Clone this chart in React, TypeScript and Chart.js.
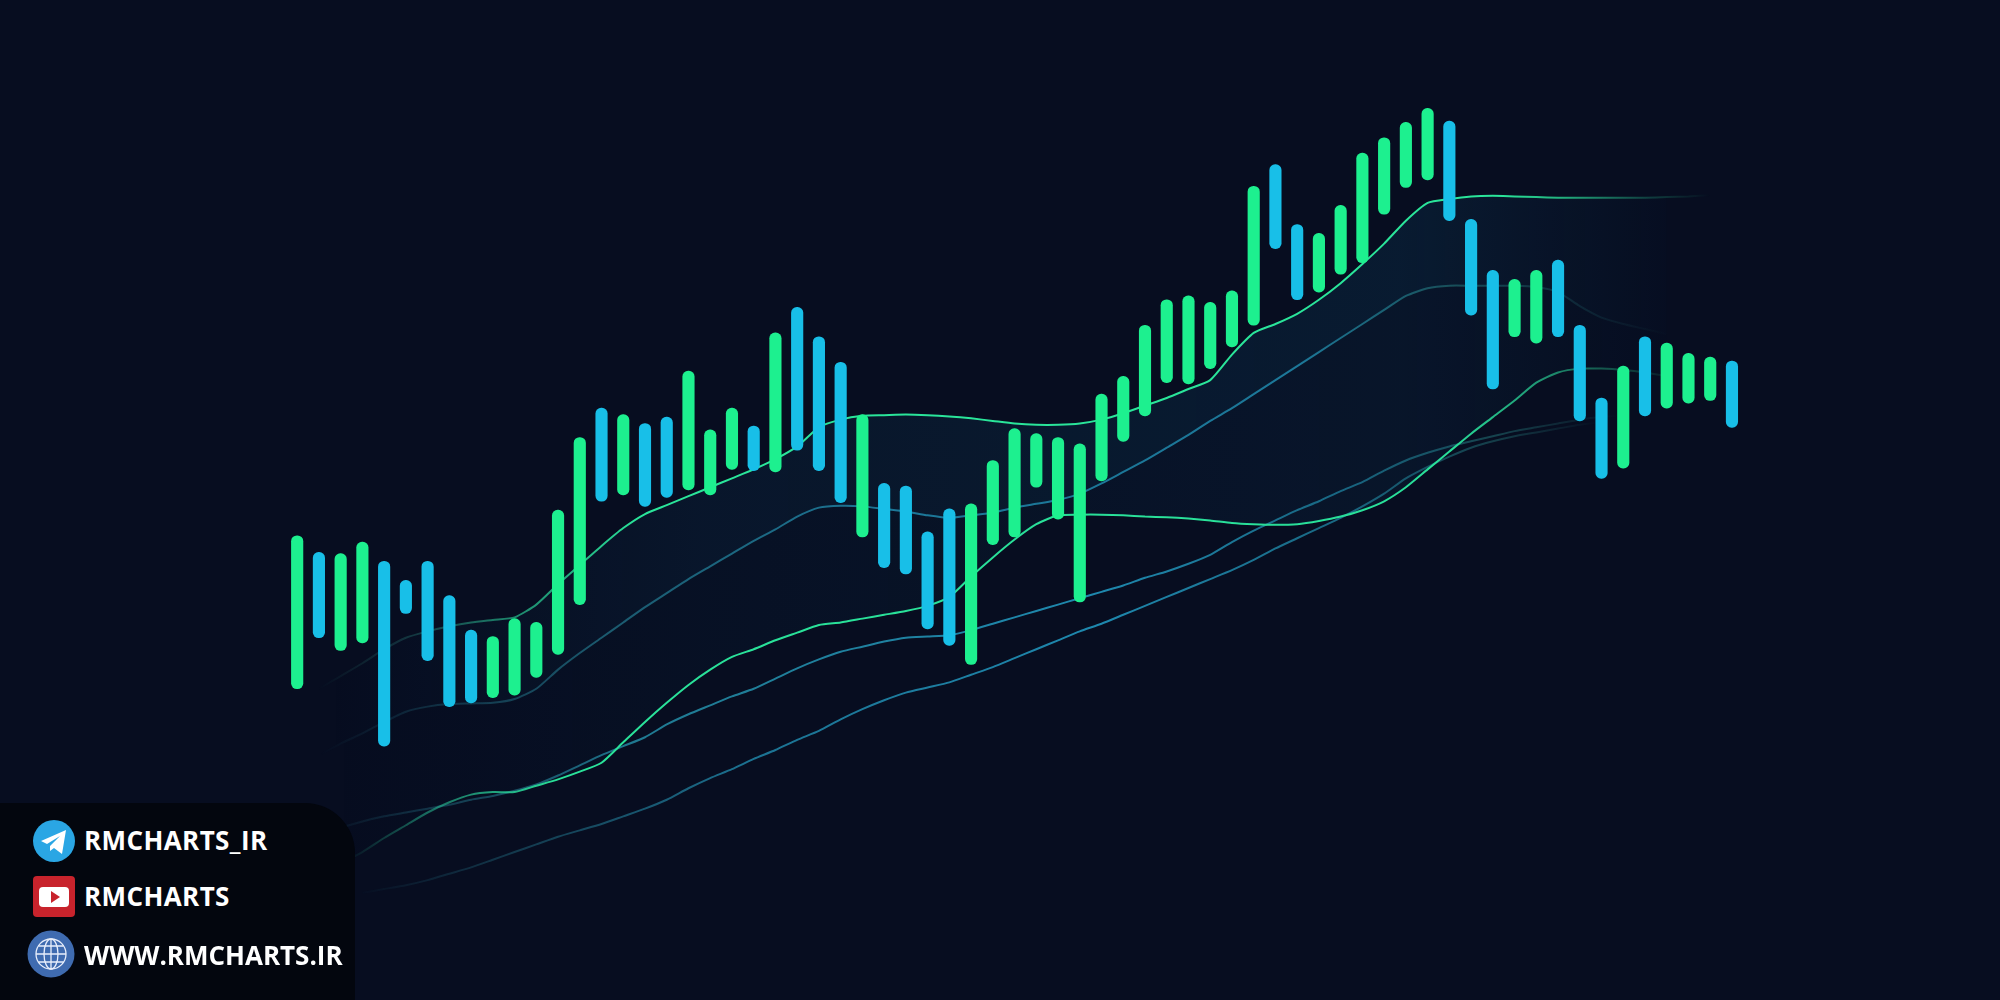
import React, { useEffect, useRef } from "react";
import { Chart, registerables } from "chart.js";

Chart.register(...registerables);

const barHigh = [364,351,350,359,344,329,344,317,290,285,299,296,384,441,464,459,452,457,493,447,464,450,523,543,520,500,459,405,403,367,385,389,423,448,444,441,436,475,489,529,549,552,547,556,638,655,608,601,623,664,676,688,699,689,612,572,565,572,580,529,472,497,520,515,507,504,501];
const barLow = [244,284,274,280,199,303,266,230,233,237,239,253,271,310,391,396,387,394,400,396,416,415,414,431,415,390,363,339,334,291,278,263,357,363,402,377,312,407,438,458,484,483,495,512,529,589,549,555,569,578,616,637,643,611,537,479,520,515,520,454,409,417,458,464,468,470,449];
const barKind = "GBGGBBBBBGGGGGBGBBGGGBGBBBGBBBBGGGGGGGGGGGGGGBBGGGGGGBBBGGBBBGBGGGB".split("");

const upperEnvelope = [null,244,254,264,275,284,289,293,296,298,300,310,326,341,356,370,381,388,395,402,409,416,424,434,449,455,458,458.5,459,458.5,457.5,456,454,452,451,451,452,455,460,466,472,479,486,506,523,530,538,549,562,577,593,611,625,628,630,630.5,630,629.5,629,629,629,629,629,629.5,630,631];
const upperMiddle = [null,192,201,209,218,226,230,232,232.5,233,236,244,259,272,284,296,308,319,330,340,350,360,369,379,386,387.5,387,385,383,380,378,380,382,386,389,392,397,405,414,423,433,443,454,464,475,486,497,508,519,530,541,552,558,560,560,560,560,559,555,544,535,530,526,522];
const lowerEnvelope = [null,null,107,116,127,137,147,155,161,163,163,168,173,179,186,202,218,233,247,259,269,275,282,288,294,296,299,302,305,309,316,332,347,361,373,380,380.5,380.5,380,379,378.5,377.5,376,374,373,372.5,373,375.5,379,384,391,402,416,430,444,457,470,484,492,495,495,494,492,489];
const lowerMiddle = [null,129,135,140,144,147,150,153,157,160,164,169,176,184,192,199,206,216,224,231,238,244,252,260,267,273,277,281,284,285,286,290,295,300,305,310,315,320,325,331,336,342,349,359,368,376,384,391,399,406,415,423,429,434,438,442,446,449,452,455,457,458];
const lowerBase = [null,null,null,84,87,90,94,99,104,110,116,122,128,133,138,144,150,157,166,174,181,189,196,204,211,220,228,235,241,245,249,255,261,268,275,282,289,295,302,309,316,323,330,337,345,354,362,370,378,387,397,409,418,426,433,438,442,445,448,451,453];

const handles = ["RMCHARTS_IR", "RMCHARTS", "WWW.RMCHARTS.IR"];

const GREEN = "#1df08f";
const BLUE = "#18bfe8";

type Stop = [number, string];
function hGrad(chart: any, stops: Stop[]) {
  const g = chart.ctx.createLinearGradient(0, 0, 2000, 0);
  stops.forEach(([p, c]) => g.addColorStop(p / 2000, c));
  return g;
}

function lineSet(values: (number | null)[], color: (c: any) => any, fill: any, bg?: (c: any) => any) {
  const sessions = barHigh.map((_, i) => i);
  return {
    type: "line" as const,
    data: sessions.map((i) => ({ x: i, y: values[i] ?? null })),
    borderColor: (c: any) => color(c.chart),
    backgroundColor: bg ? (c: any) => bg(c.chart) : "transparent",
    borderWidth: 2,
    pointRadius: 0,
    tension: 0.2,
    fill,
    order: 1,
  };
}

export default function App() {
  const ref = useRef<HTMLCanvasElement>(null);
  useEffect(() => {
    const sessions = barHigh.map((_, i) => i);
    const chart = new Chart(ref.current!, {
      type: "bar",
      data: {
        datasets: [
          {
            type: "bar",
            data: sessions.map((i) => ({ x: i, y: [barLow[i], barHigh[i]] })) as any,
            backgroundColor: barKind.map((k) => (k === "G" ? GREEN : BLUE)),
            barThickness: 11.5,
            borderRadius: 6,
            borderSkipped: false,
            order: 0,
          },
          lineSet(
            upperEnvelope,
            (ch) => hGrad(ch, [[318, "rgba(60,180,150,0)"], [400, "rgba(50,150,140,0.25)"], [500, "rgba(42,200,150,0.6)"], [640, "#2ae59a"], [1500, "#2ae59a"], [1560, "rgba(42,220,150,0.8)"], [1650, "rgba(42,200,150,0.25)"], [1710, "rgba(42,220,150,0)"]]),
            { target: 2 },
            (ch) => hGrad(ch, [[330, "rgba(20,90,125,0)"], [700, "rgba(20,90,125,0.12)"], [1400, "rgba(20,100,135,0.17)"], [1700, "rgba(20,90,125,0)"]])
          ),
          lineSet(
            upperMiddle,
            (ch) => hGrad(ch, [[320, "rgba(40,130,150,0)"], [420, "rgba(40,130,150,0.25)"], [600, "rgba(38,130,150,0.65)"], [900, "rgba(33,140,175,0.85)"], [1300, "rgba(33,140,175,0.85)"], [1450, "rgba(40,130,130,0.55)"], [1600, "rgba(40,130,130,0.15)"], [1670, "rgba(40,130,130,0)"]]),
            { target: 3 },
            (ch) => hGrad(ch, [[330, "rgba(20,90,125,0)"], [700, "rgba(20,90,125,0.05)"], [1400, "rgba(20,100,135,0.1)"], [1700, "rgba(20,90,125,0)"]])
          ),
          lineSet(
            lowerEnvelope,
            (ch) => hGrad(ch, [[345, "rgba(42,200,150,0)"], [430, "rgba(40,190,150,0.55)"], [560, "#2ae59a"], [1450, "#2ae59a"], [1540, "rgba(42,210,150,0.7)"], [1620, "rgba(42,210,150,0.3)"], [1680, "rgba(42,210,150,0)"]]),
            false
          ),
          lineSet(
            lowerMiddle,
            (ch) => hGrad(ch, [[320, "rgba(40,130,150,0)"], [450, "rgba(40,130,150,0.4)"], [640, "rgba(38,150,175,0.8)"], [1100, "rgba(33,150,190,0.9)"], [1350, "rgba(33,140,170,0.7)"], [1500, "rgba(40,130,130,0.45)"], [1620, "rgba(40,130,130,0)"]]),
            false
          ),
          lineSet(
            lowerBase,
            (ch) => hGrad(ch, [[355, "rgba(40,130,150,0)"], [500, "rgba(40,130,150,0.35)"], [750, "rgba(33,140,175,0.8)"], [1100, "rgba(33,150,190,0.9)"], [1350, "rgba(33,140,170,0.7)"], [1500, "rgba(40,130,130,0.4)"], [1600, "rgba(40,130,130,0)"]]),
            false
          ),
        ] as any,
      },
      options: {
        animation: false,
        responsive: false,
        maintainAspectRatio: false,
        layout: { padding: 0 },
        plugins: { legend: { display: false }, tooltip: { enabled: false } },
        scales: {
          x: { type: "linear", display: false, min: -13.67, max: 78.33, offset: false },
          y: { type: "linear", display: false, min: 0, max: 784 },
        },
      },
    });
    return () => chart.destroy();
  }, []);

  const textStyle: React.CSSProperties = {
    position: "absolute",
    left: 84,
    fontFamily: "'Open Sans', sans-serif",
    fontWeight: 700,
    fontSize: 26,
    lineHeight: "30px",
    color: "#ffffff",
    whiteSpace: "nowrap",
  };

  return (
    <div style={{ position: "fixed", left: 0, top: 0, width: 2000, height: 1000, background: "#070d20", overflow: "hidden" }}>
      <canvas ref={ref} width={2000} height={1000} style={{ position: "absolute", left: 0, top: 0, display: "block" }} />
      <div style={{ position: "absolute", left: 0, top: 803, width: 355, height: 197, background: "#03060e", borderTopRightRadius: 50 }}>
        <svg width={355} height={197} style={{ position: "absolute", left: 0, top: 0 }}>
          <circle cx={54} cy={38} r={21} fill="#2aa6e4" />
          <path d="M41 38 L66 27 L62 51 L54 45 L50 48 L50 43 L60 33 L47 41 Z" fill="#fff" />
          <rect x={33} y={73} width={42} height={41} rx={4} fill="#c8232c" />
          <rect x={39} y={84} width={30} height={20} rx={4} fill="#fff" />
          <path d="M51 88 L60 94 L51 100 Z" fill="#c8232c" />
          <circle cx={51} cy={151} r={23.5} fill="#3f6bb0" />
          <g fill="none" stroke="#e8eefb" strokeWidth={1.3}>
            <circle cx={51} cy={151} r={15} />
            <ellipse cx={51} cy={151} rx={7} ry={15} />
            <path d="M51 136 V166 M36 151 H66 M38.5 143 H63.5 M38.5 159 H63.5" />
          </g>
        </svg>
        <div style={{ ...textStyle, top: 22, letterSpacing: 0.4 }}>{handles[0]}</div>
        <div style={{ ...textStyle, top: 78, letterSpacing: 0.4 }}>{handles[1]}</div>
        <div style={{ ...textStyle, top: 137, letterSpacing: 0 }}>{handles[2]}</div>
      </div>
    </div>
  );
}
